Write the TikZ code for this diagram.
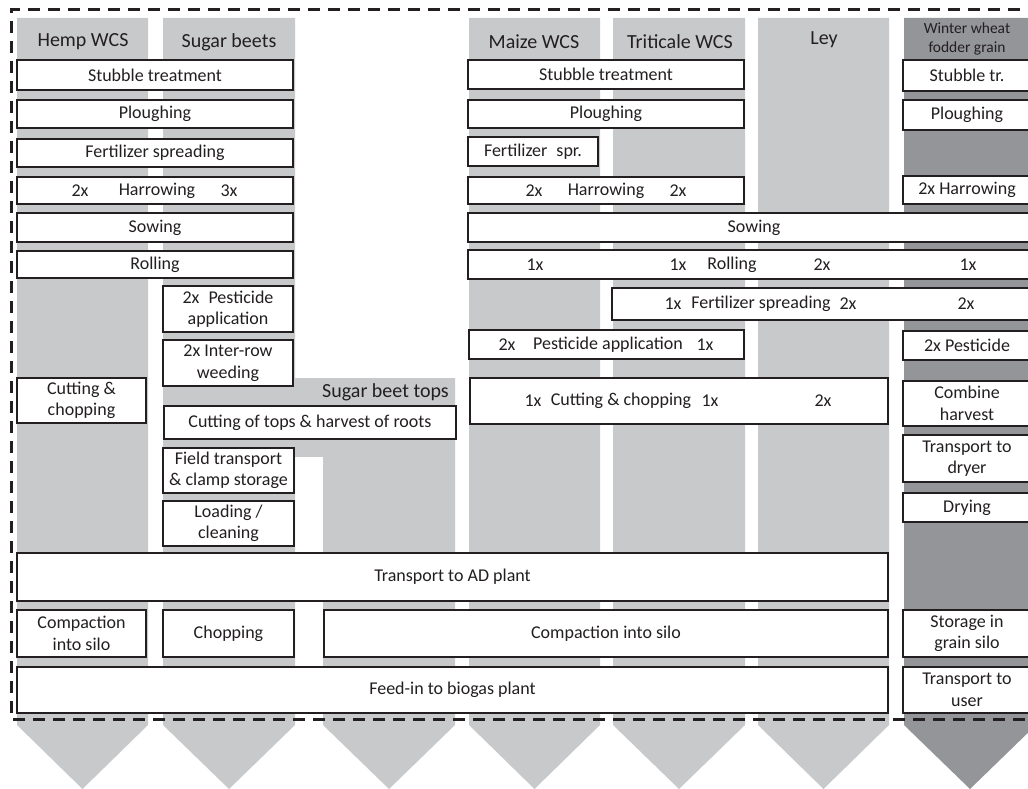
\documentclass[tikz,border=0pt]{standalone}
\usepackage{fontspec}
\setmainfont{Carlito}
\definecolor{lg}{HTML}{C8C9CB}
\definecolor{dg}{HTML}{939598}
\definecolor{ink}{HTML}{231F20}
\newcommand\boxfont{\fontsize{18}{21.5}\selectfont}
\newcommand\labfont{\fontsize{20}{24}\selectfont}
\newcommand\wwfont{\fontsize{15.5}{19}\selectfont}
\newcommand\mybox[6]{%
  \pgfmathsetmacro\myW{#4-#2}%
  \pgfmathsetmacro\myH{#5-#3}%
  \node[box, minimum width=\myW pt, minimum height=\myH pt] (#1) at ({(#2+#4)/2},{(#3+#5)/2}) {#6};}
\begin{document}
\begin{tikzpicture}[x=1pt,y=-1pt,
  box/.style={draw=ink, line width=1.2pt, fill=white, inner sep=0pt, align=center, font=\boxfont, text=ink},
  txt/.style={inner sep=0pt, font=\boxfont, text=ink},
  lab/.style={inner sep=0pt, font=\labfont, text=ink, align=center},
  boundary/.style={draw=ink, line width=3pt, dash pattern=on 12pt off 8pt}]
\clip (0,0) rectangle (1028,789);
% columns
\fill[lg] (17,18) -- (148,18) -- (148,725) -- (82.5,789) -- (17,725) -- cycle;
\fill[lg] (163,18) -- (295,18) -- (295,725) -- (229,789) -- (163,725) -- cycle;
\fill[lg] (163,378) rectangle (455,457);
\fill[lg] (323,378) -- (455,378) -- (455,725) -- (389,789) -- (323,725) -- cycle;
\fill[lg] (469,18) -- (600,18) -- (600,725) -- (534.5,789) -- (469,725) -- cycle;
\fill[lg] (613,18) -- (745,18) -- (745,725) -- (679,789) -- (613,725) -- cycle;
\fill[lg] (758,18) -- (889,18) -- (889,725) -- (823.5,789) -- (758,725) -- cycle;
\fill[dg] (904,18) -- (1036,18) -- (1036,725) -- (970,789) -- (904,725) -- cycle;
% column labels
\node[lab] (lhemp) at (83,42) {Hemp WCS};
\node[lab] (lsb) at (229,42) {Sugar beets};
\node[lab] (lmaize) at (534,42) {Maize WCS};
\node[lab] (ltrit) at (680,42) {Triticale WCS};
\node[lab] (lley) at (824,40) {Ley};
\node[lab, font=\wwfont] (lww) at (967,39) {Winter wheat\\fodder grain};
\node[lab, anchor=east] (ltops) at (449,392) {Sugar beet tops};
% hemp + sugar beet boxes
\mybox{st1}{17}{60}{293}{90}{Stubble treatment}
\mybox{pl1}{17}{100}{293}{128}{Ploughing}
\mybox{fs1}{17}{139}{293}{167}{Fertilizer spreading}
\mybox{ha1}{17}{177}{293}{204}{}
\mybox{so1}{17}{213}{293}{242}{Sowing}
\mybox{ro1}{17}{251}{293}{278}{Rolling}
\mybox{pe1}{163}{286}{293}{332}{2x\enspace Pesticide\\application}
\mybox{we1}{163}{340}{293}{386}{2x Inter-row\\weeding}
\mybox{cu1}{17}{378}{146}{423}{Cutting \&\\chopping}
\mybox{to1}{164}{406}{456}{439}{Cutting of tops \& harvest of roots}
\mybox{ft1}{163}{448}{294}{493}{Field transport\\\& clamp storage}
\mybox{lo1}{163}{501}{294}{546}{Loading /\\cleaning}
% maize + triticale + ley
\mybox{st2}{468}{60}{744}{89}{Stubble treatment}
\mybox{pl2}{468}{100}{744}{128}{Ploughing}
\mybox{fs2}{468}{137}{598}{166}{Fertilizer\enspace spr.}
\mybox{ha2}{468}{177}{744}{204}{}
\mybox{so2}{468}{213}{1040}{242}{Sowing}
\mybox{ro2}{468}{250}{1040}{279}{}
\mybox{fs3}{612}{288}{1040}{320}{}
\mybox{pe2}{469}{330}{744}{359}{}
\mybox{cu2}{470}{378}{888}{424}{}
% winter wheat
\mybox{st3}{903}{60}{1031}{91}{Stubble tr.}
\mybox{pl3}{903}{100}{1031}{130}{Ploughing}
\mybox{ha3}{903}{176}{1031}{204}{2x Harrowing}
\mybox{pe3}{903}{331}{1031}{360}{2x Pesticide}
\mybox{co3}{903}{381}{1031}{426}{Combine\\harvest}
\mybox{td3}{903}{435}{1031}{482}{Transport to\\dryer}
\mybox{dr3}{903}{493}{1031}{522}{Drying}
\mybox{sg3}{903}{610}{1031}{657}{Storage in\\grain silo}
\mybox{tu3}{903}{667}{1031}{713}{Transport to\\user}
% common rows
\mybox{ad}{17}{553}{888}{601}{Transport to AD plant}
\mybox{cp1}{17}{610}{146}{657}{Compaction\\into silo}
\mybox{ch1}{163}{610}{294}{657}{Chopping}
\mybox{cp2}{324}{610}{888}{657}{Compaction into silo}
\mybox{fe}{17}{667}{888}{713}{Feed-in to biogas plant}
% texts on shared rows
\node[txt] (ha1a) at (80,190.5) {2x};
\node[txt] (ha1b) at (157,190.5) {Harrowing};
\node[txt] (ha1c) at (229,190.5) {3x};
\node[txt] (ha2a) at (534,190.5) {2x};
\node[txt] (ha2b) at (606,190.5) {Harrowing};
\node[txt] (ha2c) at (678,190.5) {2x};
\node[txt] (ro2a) at (535,264.5) {1x};
\node[txt] (ro2b) at (678,264.5) {1x};
\node[txt] (ro2c) at (732,264.5) {Rolling};
\node[txt] (ro2d) at (822,264.5) {2x};
\node[txt] (ro2e) at (968,264.5) {1x};
\node[txt] (fs3a) at (673,304) {1x};
\node[txt] (fs3b) at (761,304) {Fertilizer spreading};
\node[txt] (fs3c) at (848,304) {2x};
\node[txt] (fs3d) at (966,304) {2x};
\node[txt] (pe2a) at (507,344.5) {2x};
\node[txt] (pe2b) at (608,344.5) {Pesticide application};
\node[txt] (pe2c) at (705,344.5) {1x};
\node[txt] (cu2a) at (533,401) {1x};
\node[txt] (cu2b) at (621,401) {Cutting \& chopping};
\node[txt] (cu2c) at (710,401) {1x};
\node[txt] (cu2d) at (823,401) {2x};
% system boundary
\draw[boundary] (1040,10) -- (11,10) -- (11,719) -- (1040,719);
\end{tikzpicture}
\end{document}
